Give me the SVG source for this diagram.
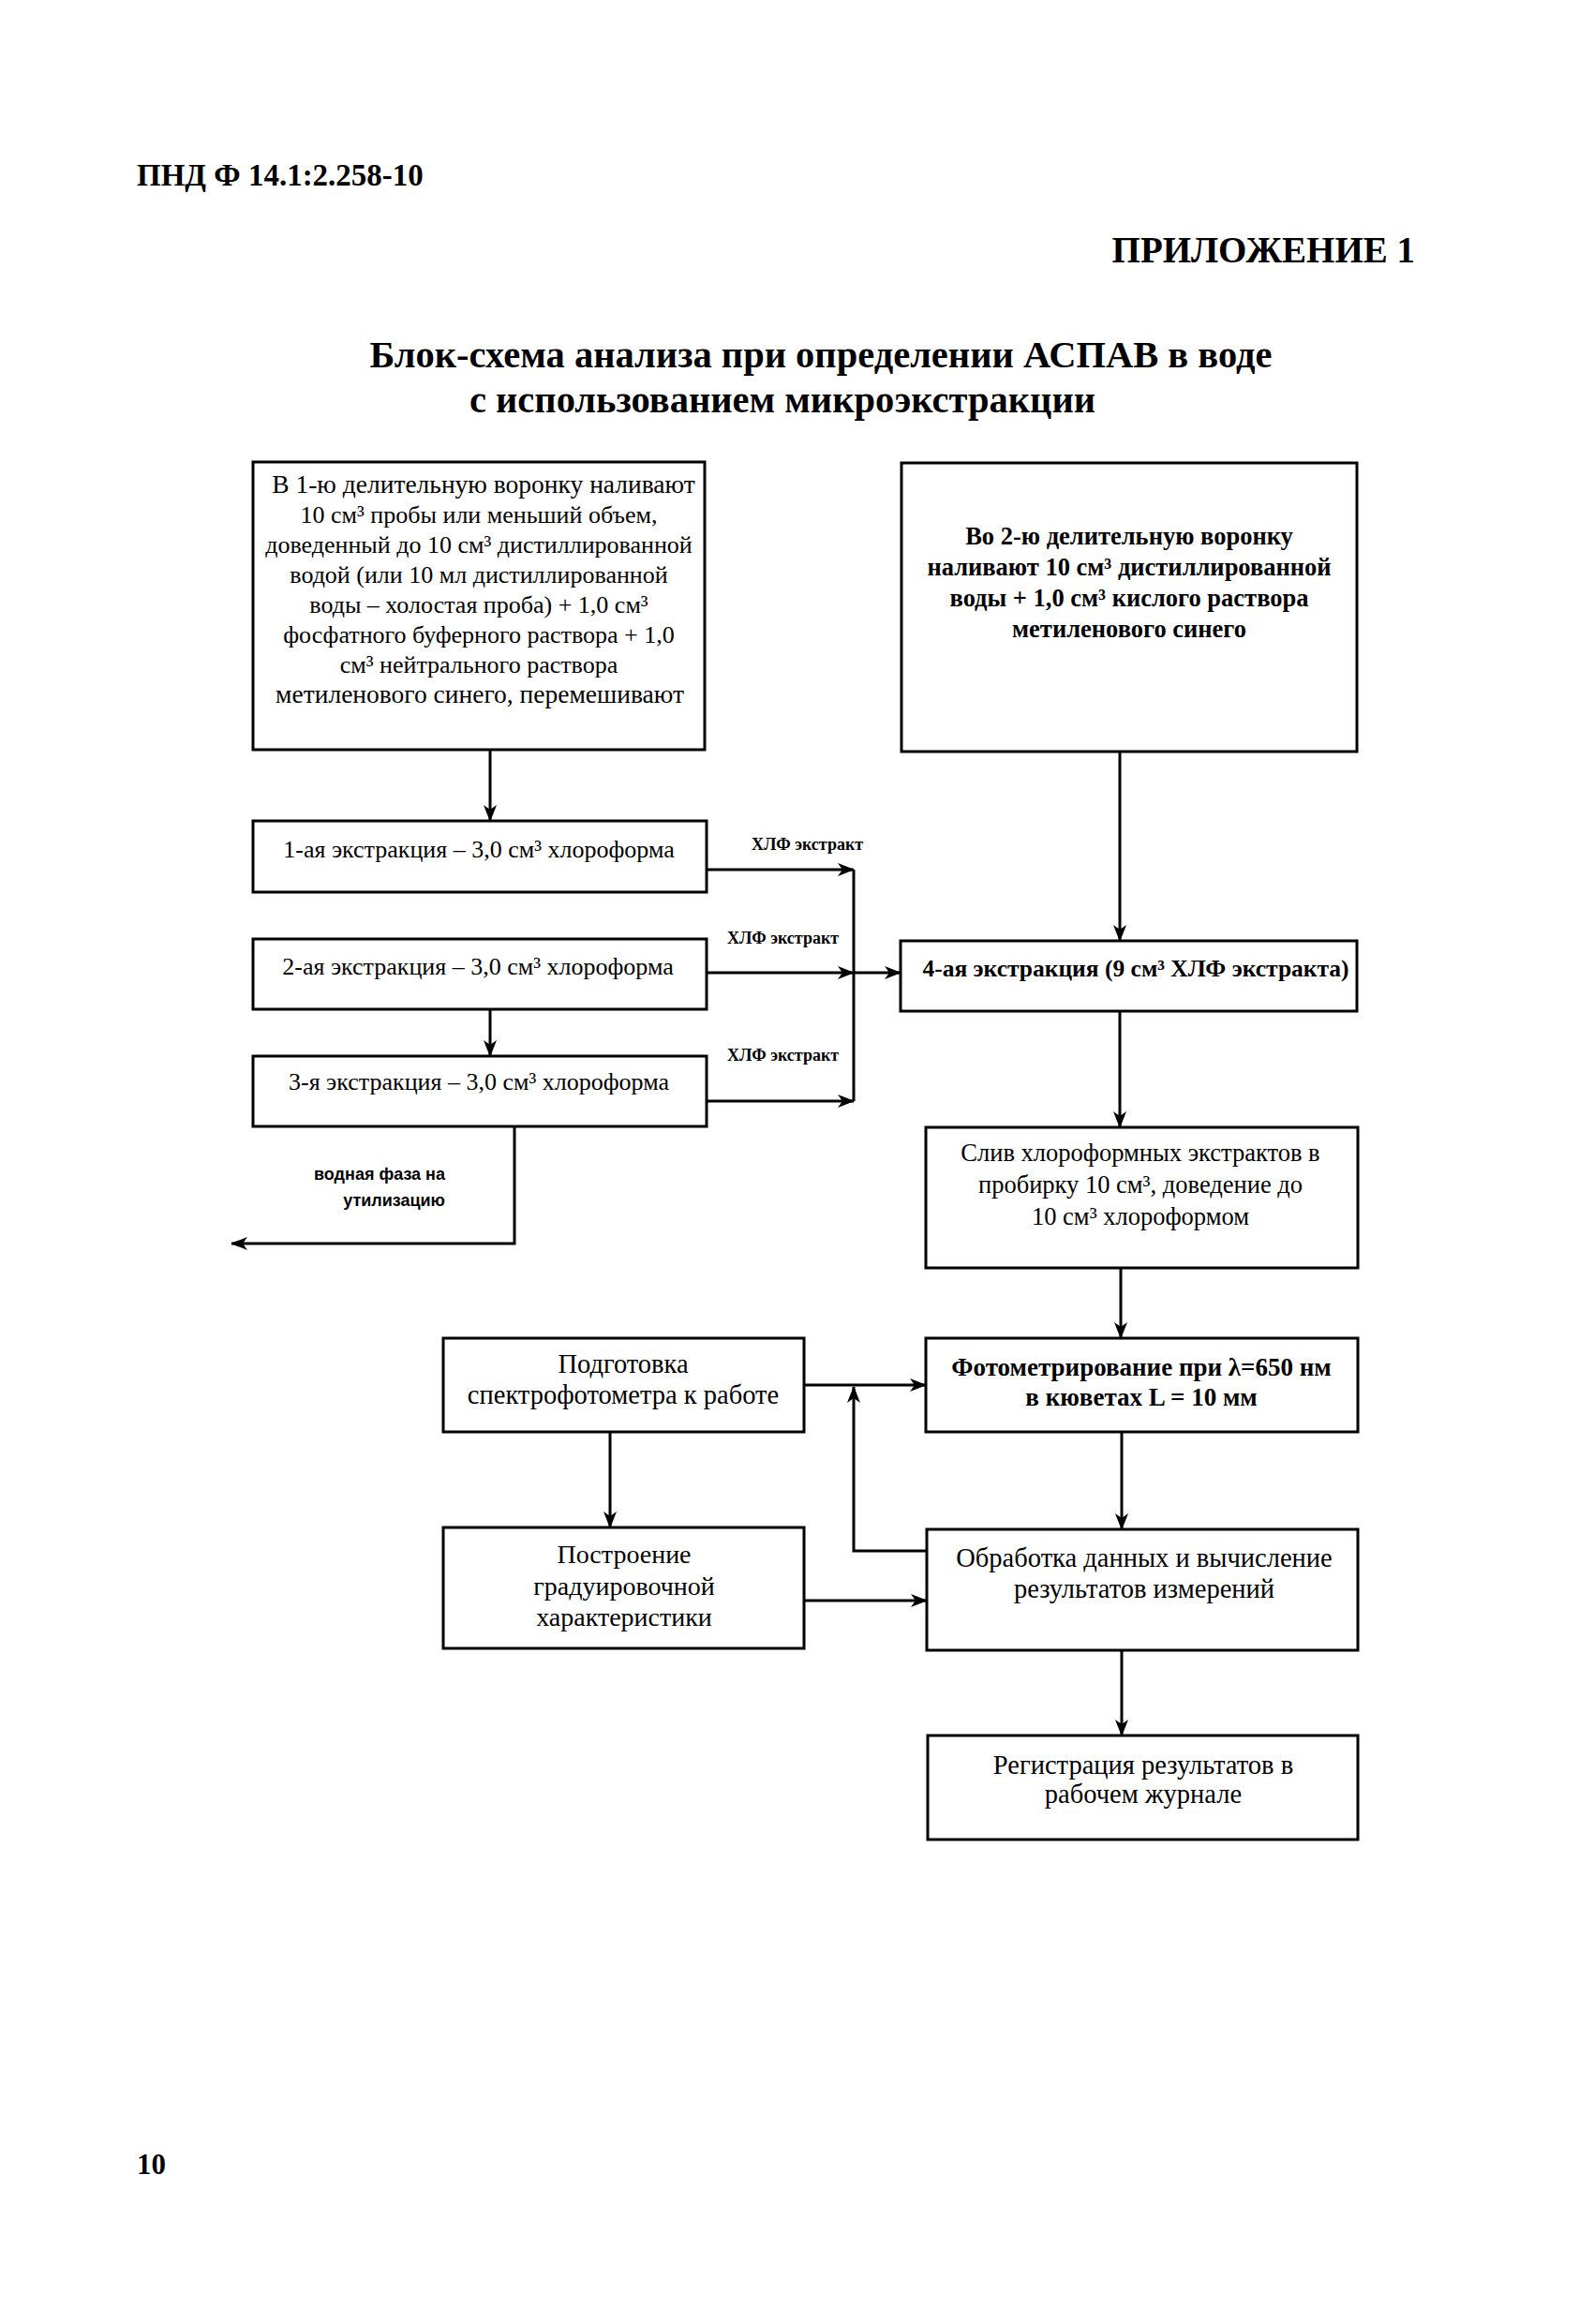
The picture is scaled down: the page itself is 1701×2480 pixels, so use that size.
<svg xmlns="http://www.w3.org/2000/svg" width="1701" height="2480" viewBox="0 0 1701 2480">
<style>
  .box { fill: #fff; stroke: #000; stroke-width: 3; }
  .ln { fill: none; stroke: #000; stroke-width: 3; }
  .arr { fill: none; stroke: #000; stroke-width: 3; marker-end: url(#ah); }
  .t { font-family: "Liberation Serif", "Times New Roman", serif; fill: #000; text-anchor: middle; }
  .b { font-weight: bold; }
  .s26 { font-size: 26px; }
  .s28 { font-size: 28.5px; }
  .lbl { font-family: "Liberation Serif", "Times New Roman", serif; font-weight: bold; font-size: 18px; fill: #000; }
  .sans { font-family: "Liberation Sans", Arial, sans-serif; font-weight: bold; font-size: 18px; fill: #000; text-anchor: end; }
  .hdr { font-family: "Liberation Serif", "Times New Roman", serif; font-weight: bold; fill: #000; }
</style>
<defs>
  <marker id="ah" markerUnits="userSpaceOnUse" markerWidth="18" markerHeight="14" refX="17" refY="7" orient="auto">
    <path d="M0,0 L18,7 L0,14 L5,7 z" fill="#000"/>
  </marker>
</defs>
<rect width="1701" height="2480" fill="#fff"/>

<g id="header">
  <text class="hdr" x="146" y="198" font-size="33">ПНД Ф 14.1:2.258-10</text>
  <text class="hdr" x="1510" y="280" font-size="39" text-anchor="end">ПРИЛОЖЕНИЕ 1</text>
  <text class="hdr" x="876" y="392" font-size="40.5" text-anchor="middle">Блок-схема анализа при определении АСПАВ в воде</text>
  <text class="hdr" x="835" y="440" font-size="40.5" text-anchor="middle">с использованием микроэкстракции</text>
  <text class="hdr" x="146" y="2320" font-size="31">10</text>
</g>

<g id="connectors">
  <line class="arr" x1="523" y1="800" x2="523" y2="876"/>
  <line class="arr" x1="754" y1="928" x2="911" y2="928"/>
  <line class="arr" x1="754" y1="1038" x2="911" y2="1038"/>
  <line class="arr" x1="911" y1="1038" x2="961" y2="1038"/>
  <line class="arr" x1="754" y1="1175" x2="911" y2="1175"/>
  <line class="ln" x1="911" y1="928" x2="911" y2="1175"/>
  <line class="arr" x1="523" y1="1077" x2="523" y2="1127"/>
  <polyline class="arr" points="549,1202 549,1327 247,1327"/>
  <line class="arr" x1="1195" y1="802" x2="1195" y2="1004"/>
  <line class="arr" x1="1195" y1="1079" x2="1195" y2="1203"/>
  <line class="arr" x1="1196" y1="1353" x2="1196" y2="1428"/>
  <line class="arr" x1="858" y1="1478" x2="988" y2="1478"/>
  <polyline class="arr" points="989,1655 911,1655 911,1480"/>
  <line class="arr" x1="651" y1="1528" x2="651" y2="1630"/>
  <line class="arr" x1="1197" y1="1528" x2="1197" y2="1632"/>
  <line class="arr" x1="858" y1="1708" x2="989" y2="1708"/>
  <line class="arr" x1="1197" y1="1761" x2="1197" y2="1852"/>
  <text class="lbl" x="802" y="907">ХЛФ экстракт</text>
  <text class="lbl" x="776" y="1007">ХЛФ экстракт</text>
  <text class="lbl" x="776" y="1132">ХЛФ экстракт</text>
  <text class="sans" x="475" y="1259">водная фаза на</text>
  <text class="sans" x="475" y="1287">утилизацию</text>
</g>

<g id="n_funnel1">
  <rect class="box" x="270" y="493" width="482" height="307"/>
  <text class="t" font-size="27.5" x="516" y="526">В 1-ю делительную воронку наливают</text>
  <text class="t s26" x="511" y="558">10 см³ пробы или меньший объем,</text>
  <text class="t s26" x="511" y="590">доведенный до 10 см³ дистиллированной</text>
  <text class="t s26" x="511" y="622">водой (или 10 мл дистиллированной</text>
  <text class="t s26" x="511" y="654">воды – холостая проба) + 1,0 см³</text>
  <text class="t s26" x="511" y="686">фосфатного буферного раствора + 1,0</text>
  <text class="t s26" x="511" y="718">см³ нейтрального раствора</text>
  <text class="t" font-size="27.5" x="512" y="750">метиленового синего, перемешивают</text>
</g>

<g id="n_funnel2">
  <rect class="box" x="962" y="494" width="486" height="308"/>
  <text class="t b" font-size="26.5" x="1205" y="581">Во 2-ю делительную воронку</text>
  <text class="t b" font-size="26.5" x="1205" y="614">наливают 10 см³ дистиллированной</text>
  <text class="t b" font-size="26.5" x="1205" y="647">воды + 1,0 см³ кислого раствора</text>
  <text class="t b" font-size="26.5" x="1205" y="680">метиленового синего</text>
</g>

<g id="n_ext1">
  <rect class="box" x="270" y="876" width="484" height="76"/>
  <text class="t s26" x="511" y="915">1-ая экстракция – 3,0 см³ хлороформа</text>
</g>
<g id="n_ext2">
  <rect class="box" x="270" y="1002" width="484" height="75"/>
  <text class="t s26" x="510" y="1040">2-ая экстракция – 3,0 см³ хлороформа</text>
</g>
<g id="n_ext3">
  <rect class="box" x="270" y="1127" width="484" height="75"/>
  <text class="t s26" x="511" y="1163">3-я экстракция – 3,0 см³ хлороформа</text>
</g>

<g id="n_ext4">
  <rect class="box" x="961" y="1004" width="487" height="75"/>
  <text class="t b" font-size="25.5" x="1212" y="1042">4-ая экстракция (9 см³ ХЛФ экстракта)</text>
</g>

<g id="n_merge">
  <rect class="box" x="988" y="1203" width="461" height="150"/>
  <text class="t" font-size="26.5" x="1217" y="1239">Слив хлороформных экстрактов в</text>
  <text class="t" font-size="26.5" x="1217" y="1273">пробирку 10 см³, доведение до</text>
  <text class="t" font-size="26.5" x="1217" y="1307">10 см³ хлороформом</text>
</g>

<g id="n_prep">
  <rect class="box" x="473" y="1428" width="385" height="100"/>
  <text class="t s28" x="665" y="1465">Подготовка</text>
  <text class="t s28" x="665" y="1498">спектрофотометра к работе</text>
</g>

<g id="n_photo">
  <rect class="box" x="988" y="1428" width="461" height="100"/>
  <text class="t b" font-size="27" x="1218" y="1468">Фотометрирование при λ=650 нм</text>
  <text class="t b" font-size="27" x="1218" y="1500">в кюветах L = 10 мм</text>
</g>

<g id="n_calib">
  <rect class="box" x="473" y="1630" width="385" height="129"/>
  <text class="t" font-size="28" x="666" y="1668">Построение</text>
  <text class="t" font-size="28" x="666" y="1702">градуировочной</text>
  <text class="t" font-size="28" x="666" y="1735">характеристики</text>
</g>

<g id="n_calc">
  <rect class="box" x="989" y="1632" width="460" height="129"/>
  <text class="t s28" x="1221" y="1672">Обработка данных и вычисление</text>
  <text class="t s28" x="1221" y="1705">результатов измерений</text>
</g>

<g id="n_log">
  <rect class="box" x="990" y="1852" width="459" height="111"/>
  <text class="t s28" x="1220" y="1893">Регистрация результатов в</text>
  <text class="t s28" x="1220" y="1924">рабочем журнале</text>
</g>
</svg>
